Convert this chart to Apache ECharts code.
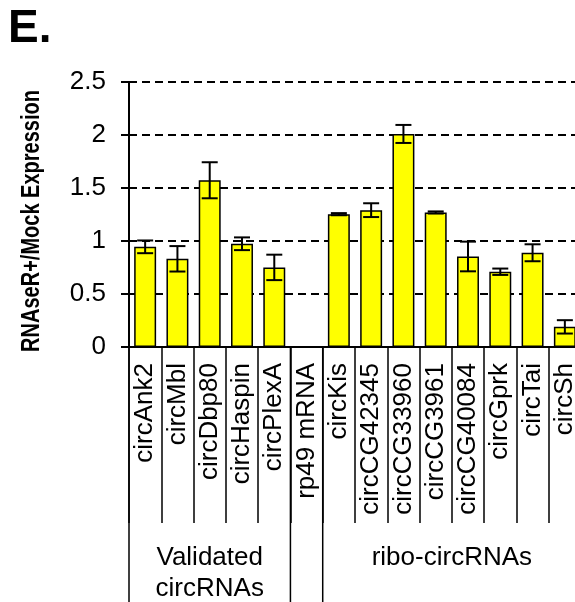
<!DOCTYPE html>
<html><head><meta charset="utf-8">
<script src="https://cdn.jsdelivr.net/npm/echarts@6/dist/echarts.min.js"></script>
<style>html,body{margin:0;padding:0;background:#fff}#c{width:575px;height:602px}</style>
</head><body><div id="c"></div>
<script>
const categories = ['circAnk2','circMbl','circDbp80','circHaspin','circPlexA','rp49 mRNA','circKis','circCG42345','circCG33960','circCG3961','circCG40084','circGprk','circTai','circSh'];
const values = [0.945,0.832,1.573,0.974,0.751,0.005,1.253,1.291,2.01,1.269,0.854,0.71,0.889,0.19];
const errors = [0.06,0.12,0.17,0.06,0.12,0,0.01,0.065,0.085,0.01,0.14,0.03,0.08,0.063];
const yTicks = [0,0.5,1,1.5,2,2.5];
const groupBoundaries = [0,5,6];
const groups = [{name:'Validated\ncircRNAs', from:0, to:4},{name:'ribo-circRNAs', from:6, to:13}];

const FONT = '"Liberation Sans", Arial, sans-serif';
const chart = echarts.init(document.getElementById('c'));
chart.setOption({
  animation:false,
  backgroundColor:'#fff',
  grid:{left:129, top:82, right:-6, bottom:255, outerBoundsMode:'none'},
  graphic:[
    {type:'text', left:8, top:6, style:{text:'E.', font:'bold 46px '+FONT, fill:'#000'}},
    {type:'text', x:32, y:221, rotation:Math.PI/2, scaleX:0.8, style:{text:'RNAseR+/Mock Expression', font:'bold 25px '+FONT, fill:'#000', align:'center', verticalAlign:'middle'}}
  ],
  xAxis:{type:'category', data:categories,
    axisLine:{show:true, lineStyle:{color:'#000', width:2}},
    axisTick:{show:true, length:176, lineStyle:{color:'#000', width:1.5}},
    axisLabel:{rotate:90, interval:0, margin:16, fontSize:26, fontFamily:FONT, color:'#000'},
    splitLine:{show:false}},
  yAxis:{type:'value', min:yTicks[0], max:yTicks[yTicks.length-1], interval:0.5,
    axisLine:{show:true, lineStyle:{color:'#000', width:2}},
    axisTick:{show:true, length:8, lineStyle:{color:'#000', width:2}},
    axisLabel:{margin:23, fontSize:26, fontFamily:FONT, color:'#000'},
    splitLine:{show:true, lineStyle:{color:'#000', width:2, type:[8,5]}}},
  series:[
    {type:'bar', data:values, barCategoryGap:'32%', itemStyle:{color:'#FFFF00', borderColor:'#000', borderWidth:1.5}, z:2},
    {type:'custom', z:5, data:values.map((v,i)=>[i, v-errors[i], v+errors[i]]),
      renderItem:function(params, api){
        const i = api.value(0);
        const lo = api.coord([i, api.value(1)]);
        const hi = api.coord([i, api.value(2)]);
        const hw = 8;
        const st = {stroke:'#000', lineWidth:2};
        if (errors[i] === 0) return {type:'group', children:[]};
        return {type:'group', children:[
          {type:'line', shape:{x1:lo[0], y1:lo[1], x2:hi[0], y2:hi[1]}, style:st},
          {type:'line', shape:{x1:hi[0]-hw, y1:hi[1], x2:hi[0]+hw, y2:hi[1]}, style:st},
          {type:'line', shape:{x1:lo[0]-hw, y1:lo[1], x2:lo[0]+hw, y2:lo[1]}, style:st}
        ]};
      }},
    {type:'custom', z:5, clip:false, data:groupBoundaries.map(b=>[b,0]),
      renderItem:function(params, api){
        const c = api.coord([api.value(0), 0]);
        const bw = api.size([1,0])[0];
        const x = c[0]-bw/2;
        return {type:'line', shape:{x1:x, y1:c[1], x2:x, y2:c[1]+260}, style:{stroke:'#000', lineWidth:1.5}};
      }},
    {type:'custom', z:5, clip:false, data:groups.map((g,k)=>[g.from, g.to, k]),
      renderItem:function(params, api){
        const a = api.coord([api.value(0), 0]);
        const b = api.coord([api.value(1), 0]);
        const g = groups[api.value(2)];
        return {type:'text', x:(a[0]+b[0])/2, y:a[1]+195,
          style:{text:g.name, font:'26px '+FONT, fill:'#000', align:'center', verticalAlign:'top', lineHeight:31}};
      }}
  ]
});
</script></body></html>
